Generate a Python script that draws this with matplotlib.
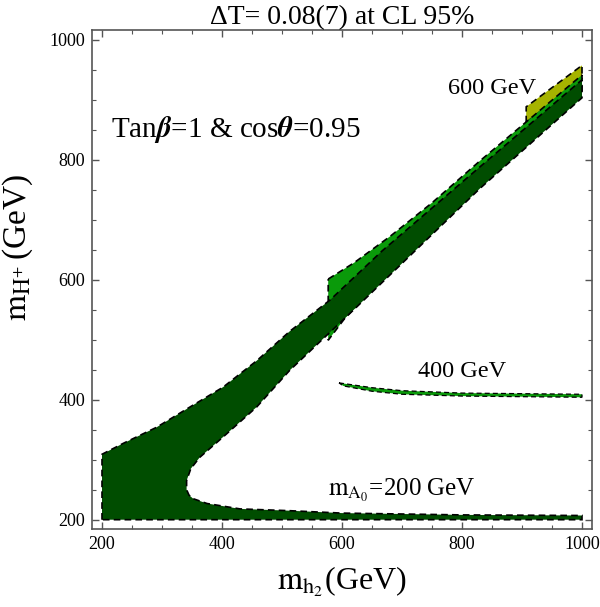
import matplotlib
matplotlib.use("Agg")
import matplotlib.pyplot as plt
from matplotlib.ticker import MultipleLocator

plt.rcParams['font.family'] = ['Liberation Serif', 'DejaVu Serif']
plt.rcParams['mathtext.fontset'] = 'stix'

# ---- data ----
# m_A0 = 200 GeV region (dark green)
dark_upper_x = [200, 235, 291, 347, 402, 458, 513, 580, 667, 830, 1000]
dark_upper_y = [309, 327, 354, 388, 421, 465, 514, 566, 648, 788, 933]
dark_lower_x = [1000, 830, 624, 513, 458, 402, 363, 348, 341, 341, 345, 352, 375, 430, 513, 600, 800, 1000]
dark_lower_y = [903, 752, 554, 449, 388, 338, 304, 285, 265, 250, 241, 235, 227, 218, 215, 211, 208, 207]
dark_floor = 200
dark_xmin, dark_xmax = 200, 1000

# m_A0 = 400 GeV region (bright green): diagonal piece
mid_upper_x = [577, 620, 680, 750, 830, 1000]
mid_upper_y = [601, 628, 672, 728, 798, 941]
mid_lower_x = [1000, 830, 605, 577]
mid_lower_y = [912, 766, 536, 499]
# m_A0 = 400 GeV region: thin horizontal band
hb_upper_x = [595, 650, 700, 800, 1000]
hb_upper_y = [428, 420, 415, 411, 409]
hb_lower_x = [1000, 800, 700, 650, 602]
hb_lower_y = [404, 406, 409, 414, 423]

# m_A0 = 600 GeV region (yellow)
top_upper_x = [907, 1000]
top_upper_y = [888, 957]
top_lower_x = [1000, 907]
top_lower_y = [935, 862]

xticks = [200, 400, 600, 800, 1000]
yticks = [200, 400, 600, 800, 1000]

c_dark = '#004d00'
c_mid = '#0a9a0a'
c_top = '#a6b300'

fig = plt.figure(figsize=(6.0, 6.07), dpi=100)
ax = fig.add_axes([0.154, 0.128, 0.832, 0.8226])

dash = (0, (4, 2.5))
edge_kw = dict(edgecolor='black', linewidth=1.2, linestyle=dash)

# yellow
ax.fill([top_upper_x[0]] + top_upper_x + top_lower_x,
        [top_lower_y[-1]] + top_upper_y + top_lower_y,
        facecolor=c_top, **edge_kw)
# bright green diagonal
ax.fill(mid_upper_x + mid_lower_x, mid_upper_y + mid_lower_y,
        facecolor=c_mid, **edge_kw)
# bright green horizontal band
ax.fill(hb_upper_x + hb_lower_x, hb_upper_y + hb_lower_y,
        facecolor=c_mid, edgecolor='black', linewidth=0.9, linestyle=dash)
# dark green
px = [dark_xmin] + dark_upper_x + dark_lower_x + [dark_xmax, dark_xmin]
py = [dark_floor] + dark_upper_y + dark_lower_y + [dark_floor, dark_floor]
ax.fill(px, py, facecolor=c_dark, **edge_kw)

ax.set_xlim(184, 1016)
ax.set_ylim(184, 1016)
ax.set_xticks(xticks)
ax.set_yticks(yticks)
ax.xaxis.set_minor_locator(MultipleLocator(50))
ax.yaxis.set_minor_locator(MultipleLocator(50))
ax.tick_params(which='both', direction='in', top=True, right=True, color='#555555')
ax.tick_params(which='major', length=5, width=1, labelsize=13, pad=5)
ax.tick_params(which='minor', length=3, width=0.8)
for s in ax.spines.values():
    s.set_color('#555555')
    s.set_linewidth(1.2)

ax.set_title('ΔT= 0.08(7) at CL 95%', fontsize=20, pad=4)
ax.set_xlabel(r'$\mathrm{m_{h_2}}$(GeV)', fontsize=23, labelpad=8)
ax.set_ylabel(r'$\mathrm{m_{H^{+}}}\,$(GeV)', fontsize=24)
ax.yaxis.set_label_coords(-0.115, 0.565)

ax.text(215, 850, r'Tan$\boldsymbol{\beta}$=1 & cos$\boldsymbol{\theta}$=0.95',
        fontsize=21, ha='left', va='center')
ax.text(850, 919, '600 GeV', fontsize=17.5, ha='center', va='center')
ax.text(800, 447, '400 GeV', fontsize=17.5, ha='center', va='center')
ax.text(700, 248, r'$\mathrm{m_{A_0}}$=200 GeV', fontsize=18, ha='center', va='center')

fig.savefig('out.png', dpi=100)
